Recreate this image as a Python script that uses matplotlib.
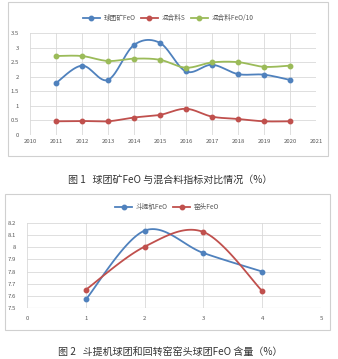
import numpy as np
import matplotlib
matplotlib.use("Agg")
import matplotlib.pyplot as plt
from matplotlib.patches import Rectangle

plt.rcParams['font.family'] = ['Noto Sans CJK SC', 'DejaVu Sans']

# Chart 1 data
years = [2011, 2012, 2013, 2014, 2015, 2016, 2017, 2018, 2019, 2020]
pellet_feo = [1.78, 2.38, 1.89, 3.09, 3.16, 2.18, 2.41, 2.09, 2.07, 1.89]
mix_s = [0.47, 0.48, 0.47, 0.60, 0.69, 0.90, 0.63, 0.55, 0.47, 0.47]
mix_feo10 = [2.71, 2.71, 2.54, 2.62, 2.58, 2.31, 2.49, 2.50, 2.34, 2.38]
names1 = ['球团矿FeO', '混合料S', '混合料FeO/10']

# Chart 2 data
points = [1, 2, 3, 4]
elevator_feo = [7.57, 8.137, 7.953, 7.80]
kiln_head_feo = [7.65, 8.005, 8.126, 7.64]
names2 = ['斗提机FeO', '窑头FeO']

title1 = '图 1   球团矿FeO 与混合料指标对比情况（%）'
title2 = '图 2   斗提机球团和回转窑窑头球团FeO 含量（%）'

BLUE = '#4F81BD'
RED = '#C0504D'
GREEN = '#9BBB59'
GRID = '#D9D9D9'
TXT = '#595959'

W, H = 338, 359


def smooth(x, y, n=30):
    """Bezier smoothing through every point (spreadsheet-style smoothed line)."""
    x = np.asarray(x, float)
    y = np.asarray(y, float)
    P = np.column_stack([x, y])
    out = [P[0]]
    t = np.linspace(0, 1, n)[1:]
    for i in range(len(P) - 1):
        p0 = P[i - 1] if i > 0 else P[i]
        p1, p2 = P[i], P[i + 1]
        p3 = P[i + 2] if i + 2 < len(P) else P[i + 1]
        c1 = p1 + (p2 - p0) / 6.0
        c2 = p2 - (p3 - p1) / 6.0
        seg = ((1 - t) ** 3)[:, None] * p1 + (3 * (1 - t) ** 2 * t)[:, None] * c1 \
            + (3 * (1 - t) * t ** 2)[:, None] * c2 + (t ** 3)[:, None] * p2
        out.extend(seg)
    out = np.array(out)
    return out[:, 0], out[:, 1]


def fig_rect(x0, y0, x1, y1):
    return [x0 / W, 1 - y1 / H, (x1 - x0) / W, (y1 - y0) / H]


fig = plt.figure(figsize=(W / 100, H / 100), dpi=100)
fig.patch.set_facecolor('white')

# chart frames
for (x0, y0, x1, y1) in [(8, 2, 328, 156), (5, 194, 330, 330)]:
    fig.patches.append(Rectangle((x0 / W, 1 - y1 / H), (x1 - x0) / W, (y1 - y0) / H,
                                 transform=fig.transFigure, fill=False,
                                 edgecolor='#D0D0D0', linewidth=0.8))


def style_axes(ax):
    for s in ax.spines.values():
        s.set_visible(False)
    ax.tick_params(length=0, labelsize=4.3, colors=TXT, pad=3)
    ax.grid(True, color=GRID, linewidth=0.6)
    ax.set_axisbelow(True)


MS = 3.2
LW = 1.3

# ---- Chart 1 ----
ax1 = fig.add_axes(fig_rect(30, 33, 316, 135))
style_axes(ax1)
ax1.set_xlim(2010, 2021)
ax1.set_ylim(0, 3.5)
ax1.set_xticks(range(2010, 2022))
ax1.set_yticks(np.arange(0, 3.51, 0.5))
ax1.set_yticklabels(['0', '0.5', '1', '1.5', '2', '2.5', '3', '3.5'])
ax1.tick_params(axis='y', pad=8)
handles = []
for vals, col, name in [(pellet_feo, BLUE, names1[0]), (mix_s, RED, names1[1]),
                        (mix_feo10, GREEN, names1[2])]:
    sx, sy = smooth(years, vals)
    ax1.plot(sx, sy, color=col, linewidth=LW, solid_capstyle='round')
    ax1.plot(years, vals, 'o', color=col, markersize=MS)
    h, = ax1.plot([], [], '-o', color=col, linewidth=LW, markersize=MS, label=name)
    handles.append(h)
fig.legend(handles=handles, loc='center', bbox_to_anchor=(168 / W, 1 - 18 / H),
           ncol=3, frameon=False, fontsize=4.8, handlelength=2.6, columnspacing=0.8,
           handletextpad=0.5, labelcolor=TXT)

fig.text(170 / W, 1 - 180 / H, title1, ha='center', va='center', fontsize=7.2, color='#333333')

# ---- Chart 2 ----
ax2 = fig.add_axes(fig_rect(27, 223, 321, 308))
style_axes(ax2)
ax2.set_xlim(0, 5)
ax2.set_ylim(7.5, 8.2)
ax2.set_xticks(range(0, 6))
ax2.set_yticks(np.arange(7.5, 8.201, 0.1))
ax2.set_yticklabels(['7.5', '7.6', '7.7', '7.8', '7.9', '8', '8.1', '8.2'])
ax2.tick_params(axis='y', pad=8)
ax2.tick_params(axis='x', pad=6)
ax2.axhline(7.5, color='#BFBFBF', linewidth=0.8)
handles = []
for vals, col, name in [(elevator_feo, BLUE, names2[0]), (kiln_head_feo, RED, names2[1])]:
    sx, sy = smooth(points, vals)
    ax2.plot(sx, sy, color=col, linewidth=LW)
    ax2.plot(points, vals, 'o', color=col, markersize=MS)
    h, = ax2.plot([], [], '-o', color=col, linewidth=LW, markersize=MS, label=name)
    handles.append(h)
fig.legend(handles=handles, loc='center', bbox_to_anchor=(167 / W, 1 - 207 / H),
           ncol=2, frameon=False, fontsize=4.8, handlelength=2.6, columnspacing=0.8,
           handletextpad=0.5, labelcolor=TXT)

fig.text(170 / W, 1 - 352 / H, title2, ha='center', va='center', fontsize=7.2, color='#333333')

fig.savefig('out.png', dpi=100, facecolor='white')
